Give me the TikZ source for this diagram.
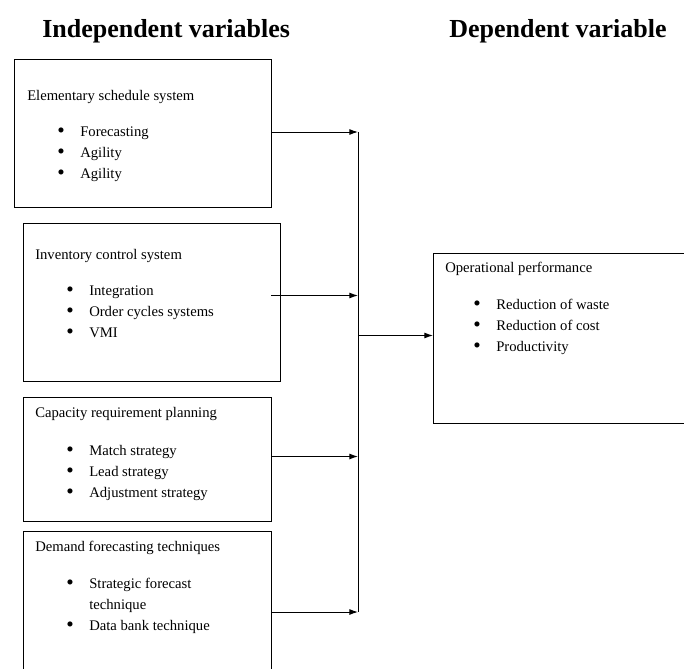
\documentclass[tikz,border=0pt]{standalone}
\usepackage{fontspec}
\setmainfont{Liberation Serif}
\usetikzlibrary{arrows.meta,positioning,calc}

\newcommand{\bul}{\makebox[17.25pt][l]{\raisebox{-0.12ex}{\scalebox{1.45}{\textbullet}}}}
\newcommand{\nobul}{\hspace*{17.25pt}}

\begin{document}
\begin{tikzpicture}[
  x=0.75pt, y=-0.75pt,
  font=\fontsize{11}{15.75}\selectfont,
  box/.style={draw, line width=0.75pt, anchor=north west, inner sep=0pt},
  txt/.style={anchor=north west, inner sep=0pt, align=left},
  hd/.style={font=\fontsize{19.5}{22}\selectfont\bfseries, anchor=base west, inner sep=0pt},
  arr/.style={-{Latex[length=6.5pt,width=4.5pt]}, line width=0.75pt}
]
\useasboundingbox (0,0) rectangle (684,668);
\clip (0,0) rectangle (684,668);

% headings
\node[hd] (indep) at (42,37)  {Independent variables};
\node[hd] (dep)   at (449,37) {Dependent variable};

% independent boxes
\node[box, minimum width=192.75pt, minimum height=111pt]  (ess) at (14,59)  {};
\node[box, minimum width=192.75pt, minimum height=118.5pt] (ics) at (23,223) {};
\node[box, minimum width=186pt,    minimum height=93pt]   (crp) at (23,397) {};
\node[box, minimum width=186pt,    minimum height=120pt]  (dft) at (23,531) {};
% dependent box
\node[box, minimum width=195pt,    minimum height=127.5pt] (op) at (433,253) {};

\node[txt] (essT) at (27,90)  {Elementary schedule system};
\node[txt] (essL) at (57,127) {\bul Forecasting\\ \bul Agility\\ \bul Agility};

\node[txt] (icsT) at (35,249) {Inventory control system};
\node[txt] (icsL) at (66,286) {\bul Integration\\ \bul Order cycles systems\\ \bul VMI};

\node[txt] (crpT) at (35,407) {Capacity requirement planning};
\node[txt] (crpL) at (66,445) {\bul Match strategy\\ \bul Lead strategy\\ \bul Adjustment strategy};

\node[txt] (dftT) at (35,541) {Demand forecasting techniques};
\node[txt] (dftL) at (66,578) {\bul Strategic forecast\\ \nobul technique\\ \bul Data bank technique};

\node[txt] (opT) at (445,262) {Operational performance};
\node[txt] (opL) at (473,299) {\bul Reduction of waste\\ \bul Reduction of cost\\ \bul Productivity};

% junction line
\coordinate (jtop) at (358,132);
\coordinate (jbot) at (358,612);
\draw[line width=0.75pt] (jtop) -- (jbot);

\draw[arr] (ess.east |- jtop) -- (jtop);
\draw[arr] ($(ics.east)+(-10,-7)$) -- ($(ics.east -| jtop)+(0,-7)$);
\draw[arr] ($(crp.east)+(0,-3)$) -- ($(crp.east -| jtop)+(0,-3)$);
\draw[arr] (dft.east |- jbot) -- (jbot);
\draw[arr] ($(op.west -| jtop)+(0,-3)$) -- ($(op.west)+(0,-3)$);
\end{tikzpicture}
\end{document}
